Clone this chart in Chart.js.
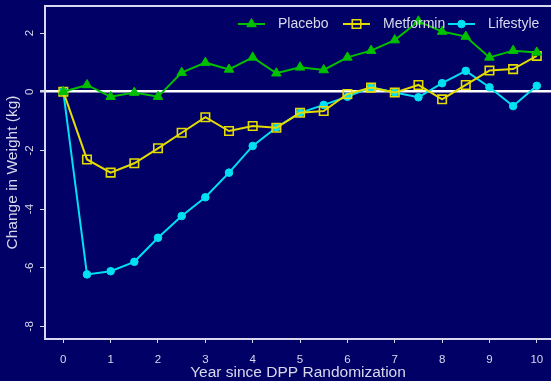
<!DOCTYPE html>
<html>
<head>
<meta charset="utf-8">
<script src="https://cdn.jsdelivr.net/npm/chart.js@4.4.1/dist/chart.umd.min.js"></script>
<style>
  html, body { margin: 0; padding: 0; background: #000066; overflow: hidden; }
  #wrap { width: 551px; height: 381px; }
</style>
</head>
<body>
<div id="wrap"><canvas id="chart" width="551" height="381"></canvas></div>
<script>
// Mean change in body weight (kg) by year since DPP randomization
const years = [0, 0.5, 1, 1.5, 2, 2.5, 3, 3.5, 4, 4.5, 5, 5.5, 6, 6.5, 7, 7.5, 8, 8.5, 9, 9.5, 10];
const placebo   = [0, 0.23, -0.17, -0.03, -0.17, 0.65, 0.99, 0.76, 1.17, 0.63, 0.83, 0.74, 1.17, 1.40, 1.76, 2.40, 2.05, 1.88, 1.17, 1.40, 1.34];
const metformin = [0, -2.31, -2.76, -2.44, -1.93, -1.40, -0.87, -1.34, -1.17, -1.23, -0.72, -0.66, -0.08, 0.14, -0.03, 0.23, -0.26, 0.23, 0.72, 0.77, 1.22];
const lifestyle = [0, -6.23, -6.12, -5.80, -4.98, -4.24, -3.60, -2.76, -1.85, -1.22, -0.72, -0.45, -0.17, 0.15, -0.03, -0.19, 0.29, 0.71, 0.15, -0.49, 0.20];
const seriesNames = ['Placebo', 'Metformin', 'Lifestyle'];
const xTickValues = [0, 1, 2, 3, 4, 5, 6, 7, 8, 9, 10];
const yTickValues = [-8, -6, -4, -2, 0, 2];

const BG = '#000066';
const INK = '#d8d8ec';
const FONT = "'Liberation Sans', Arial, Helvetica, sans-serif";

const toPoints = arr => arr.map((v, i) => ({ x: years[i], y: v }));

// Navy backdrop behind everything
const backdrop = {
  id: 'backdrop',
  beforeDraw(chart) {
    const { ctx, width, height } = chart;
    ctx.save();
    ctx.fillStyle = BG;
    ctx.fillRect(0, 0, width, height);
    ctx.restore();
  }
};

// Upper edge of the plotting frame
const frameTop = {
  id: 'frameTop',
  beforeDatasetsDraw(chart) {
    const { ctx, chartArea } = chart;
    ctx.save();
    ctx.strokeStyle = INK;
    ctx.lineWidth = 2;
    ctx.beginPath();
    ctx.moveTo(chartArea.left - 1, chartArea.top);
    ctx.lineTo(chartArea.right, chartArea.top);
    ctx.stroke();
    ctx.restore();
  }
};

// Key with line + marker samples in equal-width columns, top right of the plot
const seriesKey = {
  id: 'seriesKey',
  afterDatasetsDraw(chart) {
    const { ctx, chartArea } = chart;
    const colWidth = 105, lineLen = 27, textGap = 40;
    const x0 = chartArea.right - 313;
    const y = chartArea.top + 18;
    chart.data.datasets.forEach((ds, i) => {
      const x = x0 + i * colWidth;
      ctx.save();
      ctx.strokeStyle = ds.borderColor;
      ctx.lineWidth = ds.borderWidth;
      ctx.beginPath();
      ctx.moveTo(x, y);
      ctx.lineTo(x + lineLen, y);
      ctx.stroke();
      ctx.fillStyle = ds.pointBackgroundColor;
      ctx.strokeStyle = ds.pointBorderColor;
      ctx.lineWidth = ds.pointBorderWidth;
      Chart.helpers.drawPoint(ctx, {
        pointStyle: ds.pointStyle,
        radius: ds.pointRadius,
        borderWidth: ds.pointBorderWidth,
        rotation: 0
      }, x + lineLen / 2, y);
      ctx.fillStyle = INK;
      ctx.font = '14px ' + FONT;
      ctx.textAlign = 'left';
      ctx.textBaseline = 'middle';
      ctx.fillText(ds.label, x + textGap, y);
      ctx.restore();
    });
  }
};

new Chart(document.getElementById('chart'), {
  type: 'line',
  data: {
    datasets: [
      {
        label: seriesNames[0],
        data: toPoints(placebo),
        borderColor: '#00c000',
        borderWidth: 2,
        pointStyle: 'triangle',
        pointRadius: 5.5,
        pointBackgroundColor: '#00c000',
        pointBorderColor: '#00c000',
        pointBorderWidth: 1,
        tension: 0
      },
      {
        label: seriesNames[1],
        data: toPoints(metformin),
        borderColor: '#e4dc00',
        borderWidth: 2,
        pointStyle: 'rect',
        pointRadius: 6,
        pointBackgroundColor: 'rgba(0,0,0,0)',
        pointBorderColor: '#e4dc00',
        pointBorderWidth: 1.6,
        tension: 0
      },
      {
        label: seriesNames[2],
        data: toPoints(lifestyle),
        borderColor: '#00e0f0',
        borderWidth: 2,
        pointStyle: 'circle',
        pointRadius: 3.8,
        pointBackgroundColor: '#00e0f0',
        pointBorderColor: '#00e0f0',
        pointBorderWidth: 1,
        tension: 0
      }
    ]
  },
  options: {
    responsive: false,
    animation: false,
    layout: { autoPadding: false, padding: { top: 6, right: 0, bottom: 0, left: 0 } },
    plugins: {
      legend: { display: false },
      tooltip: { enabled: false }
    },
    scales: {
      x: {
        type: 'linear',
        min: -0.3865,
        max: 10.30,
        afterBuildTicks(scale) { scale.ticks = xTickValues.map(v => ({ value: v })); },
        afterFit(scale) {
          scale.height = 42;
          scale.paddingLeft = 0;
          scale.paddingRight = 0;
        },
        border: { display: true, color: INK, width: 2 },
        grid: { drawOnChartArea: false, drawTicks: true, tickLength: 4, tickColor: INK, lineWidth: 1 },
        ticks: { color: INK, font: { family: FONT, size: 11.5 }, padding: 10, maxRotation: 0, autoSkip: false },
        title: {
          display: true,
          text: 'Year since DPP Randomization',
          color: INK,
          font: { family: FONT, size: 15.5 },
          padding: { top: 0, bottom: -1 }
        }
      },
      y: {
        type: 'linear',
        min: -8.432,
        max: 2.922,
        afterBuildTicks(scale) { scale.ticks = yTickValues.map(v => ({ value: v })); },
        afterFit(scale) {
          scale.width = 45;
          scale.paddingTop = 0;
          scale.paddingBottom = 0;
        },
        border: { display: true, color: INK, width: 2 },
        grid: {
          drawOnChartArea: true,
          drawTicks: true,
          tickLength: 5,
          tickColor: INK,
          color: c => (c.tick && c.tick.value === 0 ? '#ffffff' : 'rgba(0,0,0,0)'),
          lineWidth: c => (c.tick && c.tick.value === 0 ? 2.5 : 1)
        },
        ticks: {
          color: INK,
          font: { family: FONT, size: 11.5 },
          padding: 5,
          minRotation: 90,
          maxRotation: 90,
          crossAlign: 'center',
          autoSkip: false
        },
        title: {
          display: true,
          text: 'Change in Weight (kg)',
          color: INK,
          font: { family: FONT, size: 15.5 },
          padding: { top: 3, bottom: 0 }
        }
      }
    }
  },
  plugins: [backdrop, frameTop, seriesKey]
});
</script>
</body>
</html>
